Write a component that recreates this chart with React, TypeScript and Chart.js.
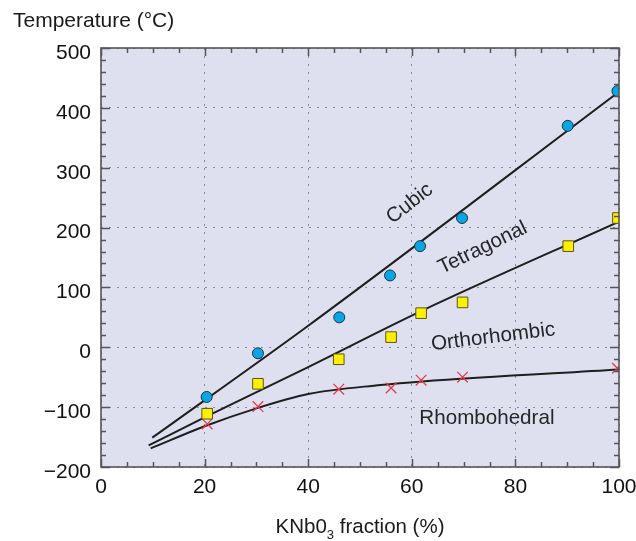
import React, { useEffect, useRef } from "react";
import { Chart, registerables } from "chart.js";

Chart.register(...registerables);

// Measured points (KNbO3 fraction %, temperature °C)
const cubicX = [20.4, 30.3, 46, 55.8, 61.6, 69.7, 90.1, 99.7];
const cubicT = [-83, -10, 50, 120, 169, 216, 370, 428];
const tetraX = [20.5, 30.3, 45.9, 56, 61.8, 69.8, 90.2, 99.8];
const tetraT = [-111, -61, -20, 17, 57, 75, 169, 216];
const rhomboX = [20.5, 30.3, 45.9, 56, 61.8, 69.8, 99.7];
const rhomboT = [-128, -99, -70, -68, -55, -50, -35];

// Phase boundary curves
const cubicLineX = [9.9, 40, 100];
const cubicLineT = [-151, 36, 427];
const tetraLineX = [9.2, 20, 40, 61.7, 100];
const tetraLineT = [-164, -117, -33, 60, 210];
const rhomboLineX = [9.6, 20, 30, 40, 54, 62, 100];
const rhomboLineT = [-169, -132, -102, -78, -63, -57, -37];

// Axis ticks
const xTicks = [0, 20, 40, 60, 80, 100];
const yTicks = [-200, -100, 0, 100, 200, 300, 400, 500];

// Region labels
const regionNames = ["Cubic", "Tetragonal", "Orthorhombic", "Rhombohedral"];
const regionAt = [
  { x: 59.6, y: 240, angle: -38 },
  { x: 73.7, y: 166, angle: -26 },
  { x: 75.7, y: 17, angle: -7 },
  { x: 74.5, y: -118, angle: 0 },
];

const FONT = '"Liberation Sans", Arial, Helvetica, sans-serif';

const pts = (xs: number[], ys: number[]) => xs.map((x, i) => ({ x, y: ys[i] }));

const decorPlugin = {
  id: "decor",
  beforeDraw(chart: any) {
    const { ctx, chartArea: a } = chart;
    ctx.save();
    ctx.fillStyle = "#dfe0ef";
    ctx.fillRect(a.left, a.top, a.right - a.left, a.bottom - a.top);
    ctx.restore();
  },
  afterDatasetsDraw(chart: any) {
    const { ctx, chartArea: a, scales } = chart;
    const xs = scales.x;
    const ys = scales.y;
    ctx.save();
    // region labels
    ctx.fillStyle = "#262626";
    ctx.font = `20.6px ${FONT}`;
    ctx.textAlign = "center";
    ctx.textBaseline = "middle";
    regionNames.forEach((t, i) => {
      const p = regionAt[i];
      ctx.save();
      ctx.translate(xs.getPixelForValue(p.x), ys.getPixelForValue(p.y));
      ctx.rotate((p.angle * Math.PI) / 180);
      ctx.fillText(t, 0, 0);
      ctx.restore();
    });
    // inward ticks
    ctx.strokeStyle = "#555";
    ctx.lineWidth = 1.5;
    ctx.beginPath();
    for (let v = 0; v <= 100; v += 5) {
      const px = Math.round(xs.getPixelForValue(v)) + 0.5;
      const len = v % 20 === 0 ? 8 : 5;
      ctx.moveTo(px, a.bottom);
      ctx.lineTo(px, a.bottom - len);
      ctx.moveTo(px, a.top);
      ctx.lineTo(px, a.top + len);
    }
    for (let v = -200; v <= 500; v += 20) {
      const py = Math.round(ys.getPixelForValue(v)) + 0.5;
      const len = v % 100 === 0 ? 9 : 5;
      ctx.moveTo(a.left, py);
      ctx.lineTo(a.left + len, py);
      ctx.moveTo(a.right, py);
      ctx.lineTo(a.right - len, py);
    }
    ctx.stroke();
    ctx.lineWidth = 1.6;
    ctx.strokeRect(a.left, a.top, a.right - a.left, a.bottom - a.top);
    ctx.restore();
  },
  afterDraw(chart: any) {
    const { ctx, chartArea: a } = chart;
    ctx.save();
    ctx.fillStyle = "#1a1a1a";
    ctx.textBaseline = "alphabetic";
    // y title
    ctx.font = `21px ${FONT}`;
    ctx.textAlign = "left";
    ctx.fillText("Temperature (\u00B0C)", 13, 27);
    // x title with subscript
    const p1 = "KNb0";
    const p2 = "3";
    const p3 = " fraction (%)";
    ctx.font = `20.5px ${FONT}`;
    const w1 = ctx.measureText(p1).width;
    const w3 = ctx.measureText(p3).width;
    ctx.font = `13px ${FONT}`;
    const w2 = ctx.measureText(p2).width;
    const total = w1 + w2 + w3;
    const cx = (a.left + a.right) / 2;
    let x0 = cx - total / 2;
    const base = 533;
    ctx.font = `20.5px ${FONT}`;
    ctx.fillText(p1, x0, base);
    x0 += w1;
    ctx.font = `13px ${FONT}`;
    ctx.fillText(p2, x0, base + 6);
    x0 += w2;
    ctx.font = `20.5px ${FONT}`;
    ctx.fillText(p3, x0, base);
    ctx.restore();
  },
};

export default function App() {
  const ref = useRef<HTMLCanvasElement | null>(null);
  useEffect(() => {
    document.body.style.margin = "0";
    if (!ref.current) return;
    const lineDs = (xs: number[], ys: number[]) => ({
      data: pts(xs, ys),
      showLine: true,
      borderColor: "#1e1e1e",
      borderWidth: 2,
      pointRadius: 0,
      cubicInterpolationMode: "monotone" as const,
      fill: false,
    });
    const chart = new Chart(ref.current, {
      type: "scatter",
      data: {
        datasets: [
          {
            data: pts(cubicX, cubicT),
            pointStyle: "circle",
            pointRadius: 5.5,
            backgroundColor: "#08a6e4",
            borderColor: "#1b3447",
            borderWidth: 1,
          },
          {
            data: pts(tetraX, tetraT),
            pointStyle: "rect",
            pointRadius: 7.5,
            backgroundColor: "#fff000",
            borderColor: "#5a5420",
            borderWidth: 1,
          },
          {
            data: pts(rhomboX, rhomboT),
            pointStyle: "crossRot",
            pointRadius: 7.5,
            borderColor: "#ea3a45",
            borderWidth: 1.3,
          },
          lineDs(cubicLineX, cubicLineT),
          lineDs(tetraLineX, tetraLineT),
          lineDs(rhomboLineX, rhomboLineT),
        ] as any,
      },
      options: {
        animation: false,
        responsive: false,
        devicePixelRatio: 1,
        layout: { padding: { left: 0, top: 48, right: 17, bottom: 0 } },
        plugins: {
          legend: { display: false },
          tooltip: { enabled: false },
        },
        scales: {
          x: {
            type: "linear",
            min: 0,
            max: 100,
            afterFit: (s: any) => {
              s.height = 74;
              s.paddingLeft = 0;
              s.paddingRight = 0;
            },
            afterBuildTicks: (s: any) => {
              s.ticks = xTicks.map((v) => ({ value: v }));
            },
            ticks: {
              padding: 8,
              color: "#111",
              font: { family: FONT, size: 21 },
              maxRotation: 0,
              callback: (v: any) => String(v),
            },
            grid: {
              color: "#8c8c98",
              lineWidth: 1,
              drawTicks: false,
            },
            border: { display: false, dash: [2, 6] },
          },
          y: {
            type: "linear",
            min: -200,
            max: 500,
            afterFit: (s: any) => {
              s.width = 101;
              s.paddingTop = 0;
              s.paddingBottom = 0;
            },
            afterBuildTicks: (s: any) => {
              s.ticks = yTicks.map((v) => ({ value: v }));
            },
            ticks: {
              padding: 10,
              labelOffset: 5,
              color: "#111",
              font: { family: FONT, size: 21 },
              callback: (v: any) => (Number(v) < 0 ? "\u2212" + Math.abs(Number(v)) : String(v)),
            },
            grid: {
              color: "#8c8c98",
              lineWidth: 1,
              drawTicks: false,
            },
            border: { display: false, dash: [2, 6] },
          },
        },
      },
      plugins: [decorPlugin],
    });
    return () => chart.destroy();
  }, []);
  return (
    <div style={{ width: 636, height: 541 }}>
      <canvas ref={ref} width={636} height={541} style={{ display: "block" }} />
    </div>
  );
}
